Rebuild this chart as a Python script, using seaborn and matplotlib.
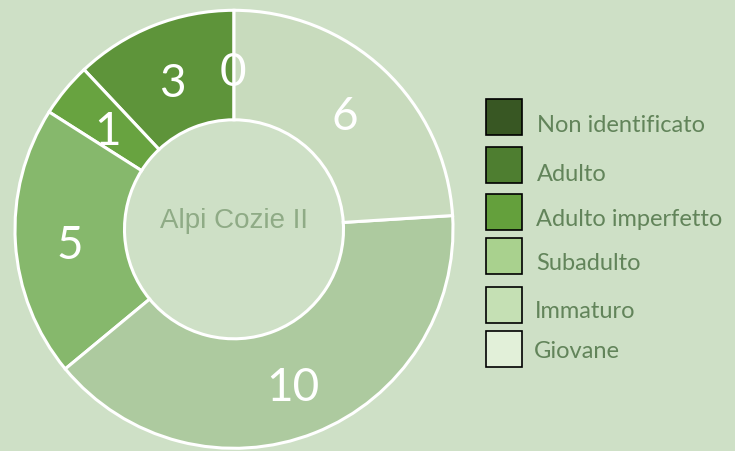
import matplotlib
matplotlib.use('Agg')
import matplotlib.pyplot as plt
import seaborn as sns
from matplotlib.patches import Rectangle

# data (legend order)
categories = ['Non identificato', 'Adulto', 'Adulto imperfetto', 'Subadulto', 'Immaturo', 'Giovane']
counts = [0, 3, 1, 5, 10, 6]
ring_colors = ['#3f6a28', '#5e943a', '#68a340', '#86b86c', '#adca9f', '#c8dbbd']
legend_colors = ['#385723', '#4e7e30', '#64a03c', '#a9d18e', '#c5e0b4', '#e2f0d9']
center_title = 'Alpi Cozie II'

bg = '#cee0c6'
sns.set_theme(style='white')
plt.rcParams['font.family'] = ['Lato', 'DejaVu Sans']

W, H = 735, 451
fig = plt.figure(figsize=(W / 100, H / 100), dpi=100, facecolor=bg)

# donut axes: centre ~ (234, 229) px, outer radius ~219 px
cx, cy, R = 234, 229.3, 219
ax = fig.add_axes([(cx - R) / W, (H - cy - R) / H, 2 * R / W, 2 * R / H])
ax.set_facecolor('none')
ax.axis('off')

total = sum(counts)
wedges, texts, autotexts = ax.pie(
    counts, colors=ring_colors, startangle=90, counterclock=True, radius=1,
    autopct=lambda p: f'{p * total / 100:.0f}', pctdistance=0.745,
    wedgeprops=dict(width=0.5, edgecolor='white', linewidth=2.2),
    textprops=dict(color='white', fontsize=33))
for w in wedges:
    w.set_clip_on(False)
# numbers sit a little lower in the original
for t in autotexts:
    x, y = t.get_position()
    t.set_position((x - 0.005, y - 0.03))
ax.set_xlim(-1, 1)
ax.set_ylim(-1, 1)
ax.set_aspect('equal')

ax.text(0, 0.04, center_title, ha='center', va='center', fontsize=20,
        color='#8fab86', family='Liberation Sans')

# legend drawn by hand
box_top = [99, 147, 194, 238, 287, 331]
text_base = [132, 181, 226, 270, 318, 358]
text_x = [537, 537, 536, 536, 535, 534]
for i, lab in enumerate(categories):
    y0 = box_top[i]
    fig.patches.append(Rectangle((486 / W, 1 - (y0 + 36) / H), 36 / W, 36 / H,
                                 transform=fig.transFigure, facecolor=legend_colors[i],
                                 edgecolor='black', linewidth=1.2))
    fig.text(text_x[i] / W, 1 - text_base[i] / H, lab, ha='left', va='baseline',
             fontsize=17, color='#62845a', fontweight='normal')

fig.savefig('out.png', dpi=100, facecolor=bg)
